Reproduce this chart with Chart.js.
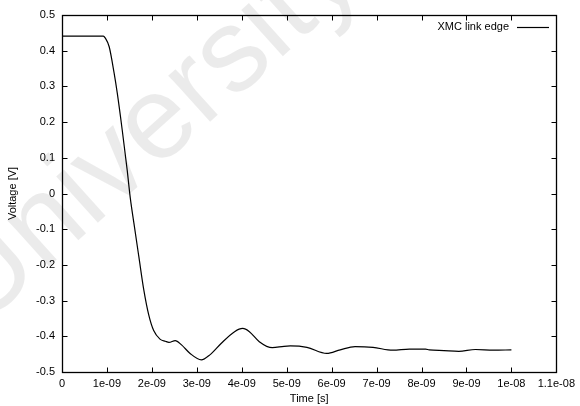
<!DOCTYPE html>
<html>
<head>
<meta charset="utf-8">
<script src="https://cdn.jsdelivr.net/npm/chart.js@4.4.1/dist/chart.umd.min.js"></script>
<style>
  html, body { margin: 0; padding: 0; background: #fff; }
  #wrap { width: 580px; height: 406px; }
</style>
</head>
<body>
<div id="wrap"><canvas id="edge"></canvas></div>
<script>
// time in ns, voltage in V
const timeNs = [
  0, 0.5, 0.92, 0.96, 1.05, 1.16, 1.23, 1.34, 1.45, 1.52, 1.60, 1.71, 1.82,
  1.93, 2.04, 2.18, 2.30, 2.38, 2.52, 2.66, 2.85, 3.10, 3.29, 3.54, 3.84,
  4.02, 4.17, 4.39, 4.68, 4.94, 5.08, 5.45, 5.89, 6.19, 6.52, 6.92, 7.36,
  7.73, 8.09, 8.17, 8.50, 8.83, 9.20, 9.60, 10.0
];
const voltage = [
  0.441, 0.441, 0.441, 0.436, 0.411, 0.337, 0.281, 0.178, 0.066, -0.013, -0.083, -0.177, -0.270,
  -0.340, -0.384, -0.408, -0.414, -0.417, -0.412, -0.424, -0.448, -0.466, -0.452, -0.420, -0.387,
  -0.378, -0.387, -0.415, -0.432, -0.428, -0.427, -0.431, -0.448, -0.438, -0.429, -0.431, -0.439,
  -0.436, -0.436, -0.438, -0.440, -0.442, -0.437, -0.439, -0.438
];
const seriesLabel = 'XMC link edge';

const xTicks = [0, 1, 2, 3, 4, 5, 6, 7, 8, 9, 10, 11];
const xTickLabels = ['0', '1e-09', '2e-09', '3e-09', '4e-09', '5e-09', '6e-09',
  '7e-09', '8e-09', '9e-09', '1e-08', '1.1e-08'];
const yTicks = [-0.5, -0.4, -0.3, -0.2, -0.1, 0, 0.1, 0.2, 0.3, 0.4, 0.5];
const yTickLabels = ['-0.5', '-0.4', '-0.3', '-0.2', '-0.1', '0', '0.1', '0.2', '0.3', '0.4', '0.5'];

const FONT = '"Liberation Sans", Arial, Helvetica, sans-serif';
Chart.defaults.font.family = FONT;
Chart.defaults.font.size = 11;
Chart.defaults.color = '#000';

// faint diagonal watermark behind everything
const watermark = {
  id: 'watermark',
  beforeDraw(chart) {
    const ctx = chart.ctx;
    ctx.save();
    ctx.translate(92, 228);
    ctx.rotate(-42 * Math.PI / 180);
    ctx.font = '118px ' + FONT;
    ctx.fillStyle = 'rgba(0,0,0,0.08)';
    ctx.textBaseline = 'alphabetic';
    ctx.fillText('University', -151, 0);
    ctx.restore();
  }
};

// gnuplot style box with inward ticks on all four sides
const frame = {
  id: 'frame',
  afterDraw(chart) {
    const { ctx, chartArea: a, scales } = chart;
    const L = Math.round(a.left) + 0.5, R = Math.round(a.right) + 0.5;
    const T = Math.round(a.top) + 0.5, B = Math.round(a.bottom) + 0.5;
    const len = 5;
    ctx.save();
    ctx.strokeStyle = '#000';
    ctx.lineWidth = 1;
    ctx.beginPath();
    scales.x.ticks.forEach(t => {
      const px = Math.round(scales.x.getPixelForValue(t.value)) + 0.5;
      ctx.moveTo(px, B); ctx.lineTo(px, B - len);
      ctx.moveTo(px, T); ctx.lineTo(px, T + len);
    });
    scales.y.ticks.forEach(t => {
      const py = Math.round(scales.y.getPixelForValue(t.value)) + 0.5;
      ctx.moveTo(L, py); ctx.lineTo(L + len, py);
      ctx.moveTo(R, py); ctx.lineTo(R - len, py);
    });
    ctx.stroke();
    ctx.lineWidth = 1.3;
    ctx.strokeRect(L, T, R - L, B - T);

    // key, top right
    const ds = chart.data.datasets[0];
    const ky = 27;
    ctx.font = '11px ' + FONT;
    ctx.fillStyle = '#000';
    ctx.textAlign = 'right';
    ctx.textBaseline = 'middle';
    ctx.fillText(ds.label, 509, ky);
    ctx.lineWidth = 1.2;
    ctx.beginPath();
    ctx.moveTo(517, ky + 0.5); ctx.lineTo(549, ky + 0.5);
    ctx.stroke();
    ctx.restore();
  }
};

new Chart(document.getElementById('edge'), {
  type: 'line',
  data: {
    datasets: [{
      label: seriesLabel,
      data: timeNs.map((t, i) => ({ x: t, y: voltage[i] })),
      borderColor: '#000',
      borderWidth: 1.2,
      pointRadius: 0,
      cubicInterpolationMode: 'monotone',
      fill: false
    }]
  },
  options: {
    responsive: true,
    maintainAspectRatio: false,
    animation: false,
    layout: { padding: { left: 0, right: 17, top: 15, bottom: 0 } },
    plugins: { legend: { display: false }, tooltip: { enabled: false } },
    scales: {
      x: {
        type: 'linear',
        min: 0,
        max: 11,
        afterBuildTicks: s => { s.ticks = xTicks.map(v => ({ value: v })); },
        afterFit: s => { s.height = 34; },
        grid: { display: false, drawTicks: false },
        border: { display: false },
        ticks: {
          padding: 5,
          maxRotation: 0,
          autoSkip: false,
          callback: (v, i) => xTickLabels[i]
        },
        title: { display: true, text: 'Time [s]', padding: { top: 0, bottom: 0 } }
      },
      y: {
        type: 'linear',
        min: -0.5,
        max: 0.5,
        afterBuildTicks: s => { s.ticks = yTicks.map(v => ({ value: v })); },
        afterFit: s => { s.width = 62; },
        grid: { display: false, drawTicks: false },
        border: { display: false },
        ticks: {
          padding: 7,
          autoSkip: false,
          callback: (v, i) => yTickLabels[i]
        },
        title: { display: true, text: 'Voltage [V]', padding: { top: 6, bottom: 0 } }
      }
    }
  },
  plugins: [watermark, frame]
});
</script>
</body>
</html>
